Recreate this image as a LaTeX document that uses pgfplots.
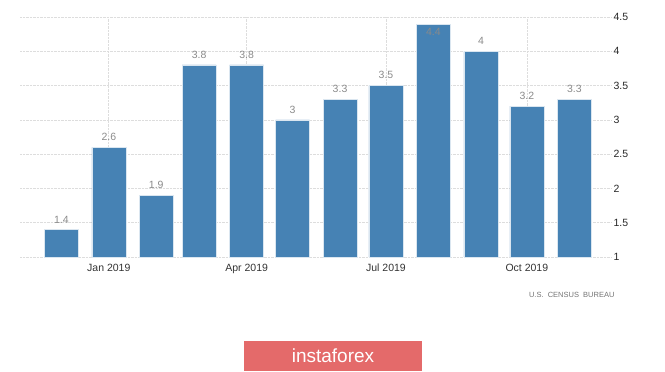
\documentclass[border=0pt]{standalone}
\usepackage{pgfplots}
\pgfplotsset{compat=1.18}
\usepackage{fontspec}
\setmainfont{Liberation Sans}
\definecolor{barblue}{HTML}{4682B4}
\definecolor{lblgray}{HTML}{8A8A8A}
\definecolor{gridgray}{HTML}{DDDDDD}
\definecolor{ifred}{HTML}{E46A6A}
\begin{document}
\begin{tikzpicture}[x=1pt,y=1pt]
\path[use as bounding box] (0,0) rectangle (665,372);
\begin{axis}[
  at={(20pt,115pt)}, anchor=south west,
  scale only axis, width=592pt, height=240pt,
  xmin=-27, xmax=359.6, ymin=1, ymax=4.5,
  axis line style={draw=none},
  tick style={draw=none},
  xtick={31,121,212,304},
  xticklabels={Jan 2019,Apr 2019,Jul 2019,Oct 2019},
  ytick={1,1.5,2,2.5,3,3.5,4,4.5},
  yticklabel pos=right,
  /pgf/number format/assume math mode=true,
  yticklabel style={font=\fontsize{10.5}{12}\selectfont, text=black!85, anchor=west, xshift=-2pt},
  xticklabel style={font=\fontsize{10.5}{12}\selectfont, text=black!80, yshift=1pt},
  ymajorgrids, xmajorgrids,
  major grid style={gridgray, densely dotted, line width=0.7pt},
  ybar, bar width=34pt, bar shift=0pt,
  clip=false,
  nodes near coords,
  nodes near coords style={font=\fontsize{10.5}{12}\selectfont, text=lblgray, yshift=3pt, /pgf/number format/assume math mode=true},
]
\addplot[fill=barblue, draw=white!80!barblue, line width=0.4pt] coordinates {
(0,1.4) (31,2.6) (62,1.9) (90,3.8) (121,3.8) (151,3.0) (182,3.3) (212,3.5) (274,4.0) (304,3.2) (335,3.3)
};
\addplot[fill=barblue, draw=white!80!barblue, line width=0.4pt,
  nodes near coords style={anchor=north, yshift=-4pt}] coordinates {
(243,4.4)
};
\end{axis}
\node[anchor=east, font=\fontsize{7.5}{9}\selectfont, text=black!55] at (618,77) {U.S.\ \ CENSUS\ \ BUREAU};
\fill[ifred] (244,1) rectangle (422,31);
\node[text=white, font=\fontsize{19}{22}\selectfont] at (333,16) {instaforex};
\end{tikzpicture}
\end{document}
